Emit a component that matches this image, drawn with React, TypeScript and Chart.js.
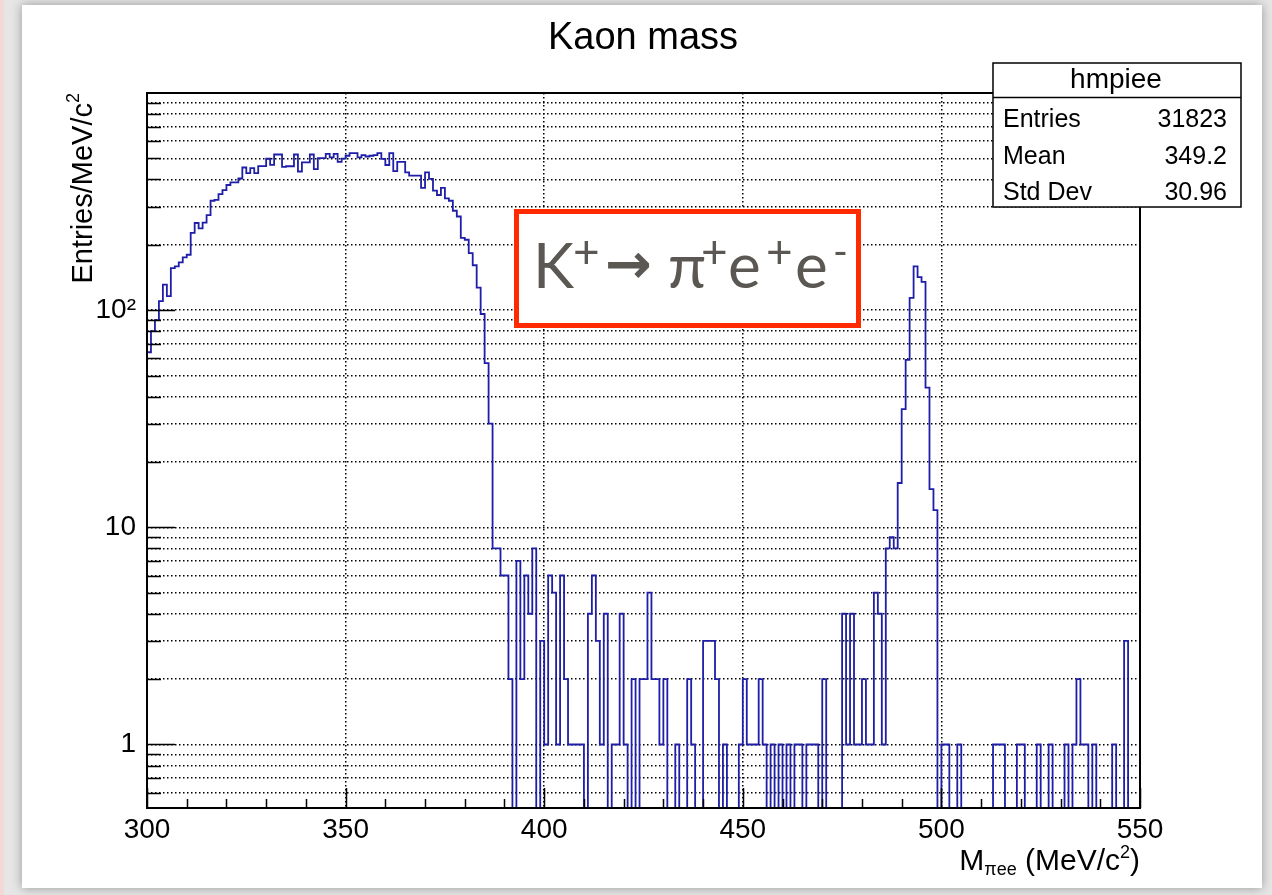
import React, { useEffect, useRef } from "react";
import { Chart, registerables } from "chart.js";

Chart.register(...registerables);

const FONT = '"Liberation Sans", Arial, Helvetica, sans-serif';

// Histogram hmpiee: 250 bins of 1 MeV/c^2 from 300 to 550
const xMin = 300;
const xMax = 550;
const binWidth = 1;
const counts: number[] = [
  64, 80, 90, 110, 131, 116, 156, 159, 166, 175, // 300
  180, 227, 252, 238, 253, 274, 319, 322, 342, 357, // 310
  377, 388, 388, 404, 454, 428, 451, 428, 461, 461, // 320
  498, 467, 521, 521, 457, 460, 460, 521, 435, 479, // 330
  479, 521, 446, 501, 501, 524, 505, 524, 482, 499, // 340
  514, 529, 529, 505, 518, 510, 514, 518, 529, 497, // 350
  466, 529, 437, 482, 482, 431, 416, 416, 416, 366, // 360
  431, 402, 355, 339, 366, 327, 319, 287, 270, 215, // 370
  211, 183, 161, 127, 96, 57, 30, 8, 8, 6, // 380
  6, 2, 0, 7, 2, 6, 4, 8, 0, 3, // 390
  1, 6, 5, 1, 6, 2, 1, 1, 1, 1, // 400
  0, 4, 6, 3, 1, 4, 0, 1, 1, 4, // 410
  1, 0, 2, 0, 2, 2, 5, 2, 2, 1, // 420
  2, 0, 0, 1, 0, 0, 2, 1, 0, 0, // 430
  3, 3, 3, 2, 0, 1, 0, 0, 0, 1, // 440
  2, 1, 1, 1, 2, 1, 0, 1, 0, 1, // 450
  0, 1, 0, 1, 1, 0, 1, 1, 1, 0, // 460
  2, 0, 0, 0, 0, 4, 1, 4, 1, 1, // 470
  2, 1, 1, 5, 4, 1, 8, 9, 8, 16, // 480
  35, 59, 114, 159, 142, 135, 44, 15, 12, 0, // 490
  1, 1, 0, 0, 1, 0, 0, 0, 0, 0, // 500
  0, 0, 0, 1, 1, 1, 0, 0, 0, 1, // 510
  1, 0, 0, 0, 1, 0, 0, 1, 0, 0, // 520
  0, 1, 0, 1, 2, 1, 1, 0, 1, 0, // 530
  0, 0, 0, 1, 0, 0, 3, 0, 0, 0, // 540
];

const yMin = 0.51;
const yMax = 1000;
const xMajorTicks = [300, 350, 400, 450, 500, 550];
const xMinorStep = 10;
const yMajorValues = [1, 10, 100];
const yMajorLabels = ["1", "10", "10\u00B2"];
const yGridValues = [
  0.6, 0.7, 0.8, 0.9,
  1, 2, 3, 4, 5, 6, 7, 8, 9,
  10, 20, 30, 40, 50, 60, 70, 80, 90,
  100, 200, 300, 400, 500, 600, 700, 800, 900,
];

const chartTitle = "Kaon mass";
const statsName = "hmpiee";
const statsLabels = ["Entries", "Mean", "Std Dev"];
const statsValues = ["31823", "349.2", "30.96"];

type Seg = { t: string; size: number; dy?: number; family?: string; weight?: string };

function segFont(s: Seg, family: string) {
  return `${s.weight || "normal"} ${s.size}px ${s.family || family}`;
}

function drawRich(
  ctx: CanvasRenderingContext2D,
  segs: Seg[],
  x: number,
  y: number,
  align: "left" | "right" | "center",
  family: string,
  color: string
) {
  ctx.save();
  ctx.textBaseline = "alphabetic";
  ctx.textAlign = "left";
  ctx.fillStyle = color;
  let w = 0;
  for (const s of segs) {
    ctx.font = segFont(s, family);
    w += ctx.measureText(s.t).width;
  }
  let cx = align === "left" ? x : align === "right" ? x - w : x - w / 2;
  for (const s of segs) {
    ctx.font = segFont(s, family);
    ctx.fillText(s.t, cx, y + (s.dy || 0));
    cx += ctx.measureText(s.t).width;
  }
  ctx.restore();
}

const decorPlugin = {
  id: "rootDecor",
  beforeDraw(chart: any) {
    const ctx: CanvasRenderingContext2D = chart.ctx;
    ctx.save();
    ctx.fillStyle = "#e6e6e6";
    ctx.fillRect(0, 0, chart.width, chart.height);
    ctx.fillStyle = "#f3d9d6";
    ctx.fillRect(0, 0, 4, chart.height);
    ctx.shadowColor = "rgba(0,0,0,0.35)";
    ctx.shadowBlur = 10;
    ctx.fillStyle = "#ffffff";
    ctx.fillRect(22, 5, 1240, 883);
    ctx.restore();
  },
  afterDraw(chart: any) {
    const ctx: CanvasRenderingContext2D = chart.ctx;
    const a = chart.chartArea;
    const xs = chart.scales.x;
    const ys = chart.scales.y;
    ctx.save();
    ctx.strokeStyle = "#000";
    ctx.lineWidth = 1.5;
    // inward tick marks on the x axis
    ctx.beginPath();
    for (let v = xMin; v <= xMax; v += xMinorStep) {
      const px = Math.round(xs.getPixelForValue(v)) + 0.5;
      const len = xMajorTicks.includes(v) ? 20 : 9;
      ctx.moveTo(px, a.bottom);
      ctx.lineTo(px, a.bottom - len);
    }
    // inward tick marks on the y axis
    for (const v of yGridValues) {
      const py = Math.round(ys.getPixelForValue(v)) + 0.5;
      const len = yMajorValues.includes(v) ? 28 : 14;
      ctx.moveTo(a.left, py);
      ctx.lineTo(a.left + len, py);
    }
    ctx.stroke();
    // frame
    ctx.lineWidth = 2;
    ctx.strokeRect(a.left, a.top, a.right - a.left, a.bottom - a.top);
    ctx.restore();

    // title
    drawRich(ctx, [{ t: chartTitle, size: 38 }], 643, 49, "center", FONT, "#000");

    // y axis title (rotated, aligned to the top of the frame)
    ctx.save();
    ctx.translate(92, a.top);
    ctx.rotate(-Math.PI / 2);
    drawRich(
      ctx,
      [
        { t: "Entries/MeV/c", size: 29 },
        { t: "2", size: 18, dy: -13 },
      ],
      0,
      0,
      "right",
      FONT,
      "#000"
    );
    ctx.restore();

    // x axis title
    drawRich(
      ctx,
      [
        { t: "M", size: 30 },
        { t: "\u03C0ee", size: 18, dy: 5 },
        { t: " (MeV/c", size: 30 },
        { t: "2", size: 18, dy: -12 },
        { t: ")", size: 30 },
      ],
      a.right,
      870,
      "right",
      FONT,
      "#000"
    );

    // statistics box
    ctx.save();
    ctx.fillStyle = "#fff";
    ctx.fillRect(993, 63, 248, 144);
    ctx.strokeStyle = "#000";
    ctx.lineWidth = 1.5;
    ctx.strokeRect(993, 63, 248, 144);
    ctx.beginPath();
    ctx.moveTo(993, 97.5);
    ctx.lineTo(1241, 97.5);
    ctx.stroke();
    ctx.restore();
    drawRich(ctx, [{ t: statsName, size: 28 }], 1116, 88, "center", FONT, "#000");
    const rowY = [127, 163.5, 200];
    statsLabels.forEach((l, i) => {
      drawRich(ctx, [{ t: l, size: 25 }], 1003, rowY[i], "left", FONT, "#000");
      drawRich(ctx, [{ t: statsValues[i], size: 25 }], 1227, rowY[i], "right", FONT, "#000");
    });

    // decay annotation
    ctx.save();
    ctx.fillStyle = "#fff";
    ctx.fillRect(516, 211, 343, 115);
    ctx.strokeStyle = "#ff2a00";
    ctx.lineWidth = 5;
    ctx.strokeRect(516.5, 211.5, 342, 114);
    ctx.restore();
    const gray = "#5b5752";
    const LATO = "Lato, 'Open Sans', sans-serif";
    drawRich(ctx, [{ t: "K", size: 62 }], 533, 288, "left", LATO, gray);
    drawRich(ctx, [{ t: "+", size: 46 }], 573, 268, "left", LATO, gray);
    drawRich(ctx, [{ t: "\u2192", size: 56, family: '"DejaVu Sans"', weight: "bold" }], 605, 283, "left", LATO, gray);
    drawRich(ctx, [{ t: "\u03C0", size: 62 }], 668, 288, "left", LATO, gray);
    drawRich(ctx, [{ t: "+", size: 46 }], 701, 268, "left", LATO, gray);
    drawRich(ctx, [{ t: "e", size: 62 }], 728, 288, "left", LATO, gray);
    drawRich(ctx, [{ t: "+", size: 46 }], 766, 268, "left", LATO, gray);
    drawRich(ctx, [{ t: "e", size: 62 }], 795, 288, "left", LATO, gray);
    drawRich(ctx, [{ t: "-", size: 40 }], 833, 266, "left", LATO, gray);
  },
};

export default function App() {
  const ref = useRef<HTMLCanvasElement | null>(null);

  useEffect(() => {
    const canvas = ref.current;
    if (!canvas) return;
    const pts = counts.map((c, i) => ({ x: xMin + i * binWidth, y: c > 0 ? c : 1e-3 }));
    const last = counts[counts.length - 1];
    pts.push({ x: xMax, y: last > 0 ? last : 1e-3 });

    const chart = new Chart(canvas, {
      type: "line",
      data: {
        datasets: [
          {
            label: statsName,
            data: pts,
            stepped: "before",
            borderColor: "#1e1ea8",
            borderWidth: 1.8,
            pointRadius: 0,
            fill: false,
            tension: 0,
          },
        ],
      },
      plugins: [decorPlugin],
      options: {
        animation: false,
        responsive: false,
        devicePixelRatio: 1,
        layout: { padding: { left: 40, right: 132, top: 93, bottom: 27 } },
        plugins: { legend: { display: false }, title: { display: false }, tooltip: { enabled: false } },
        scales: {
          x: {
            type: "linear",
            min: xMin,
            max: xMax,
            afterBuildTicks: (s: any) => {
              s.ticks = xMajorTicks.map((v) => ({ value: v }));
            },
            afterFit: (s: any) => {
              s.height = 60;
            },
            ticks: {
              autoSkip: false,
              maxRotation: 0,
              padding: 5,
              color: "#000",
              font: { family: FONT, size: 28 },
            },
            grid: {
              drawTicks: false,
              lineWidth: 1.5,
              color: (c: any) =>
                c.tick && (c.tick.value === xMin || c.tick.value === xMax) ? "rgba(0,0,0,0)" : "#000",
            },
            border: { display: false, dash: [1.5, 2.5] },
          },
          y: {
            type: "logarithmic",
            min: yMin,
            max: yMax,
            bounds: "data",
            afterBuildTicks: (s: any) => {
              s.ticks = yGridValues.map((v) => ({ value: v }));
            },
            afterFit: (s: any) => {
              s.width = 107;
            },
            ticks: {
              autoSkip: false,
              padding: 11,
              color: "#000",
              font: { family: FONT, size: 28 },
              callback: (v: any) => {
                const i = yMajorValues.indexOf(Number(v));
                return i >= 0 ? yMajorLabels[i] : "";
              },
            },
            grid: { drawTicks: false, lineWidth: 1.5, color: "#000" },
            border: { display: false, dash: [1.5, 2.5] },
          },
        },
      },
    });
    return () => chart.destroy();
  }, []);

  return (
    <div style={{ position: "fixed", left: 0, top: 0, width: 1272, height: 895 }}>
      <canvas ref={ref} width={1272} height={895} style={{ width: 1272, height: 895, display: "block" }} />
    </div>
  );
}
